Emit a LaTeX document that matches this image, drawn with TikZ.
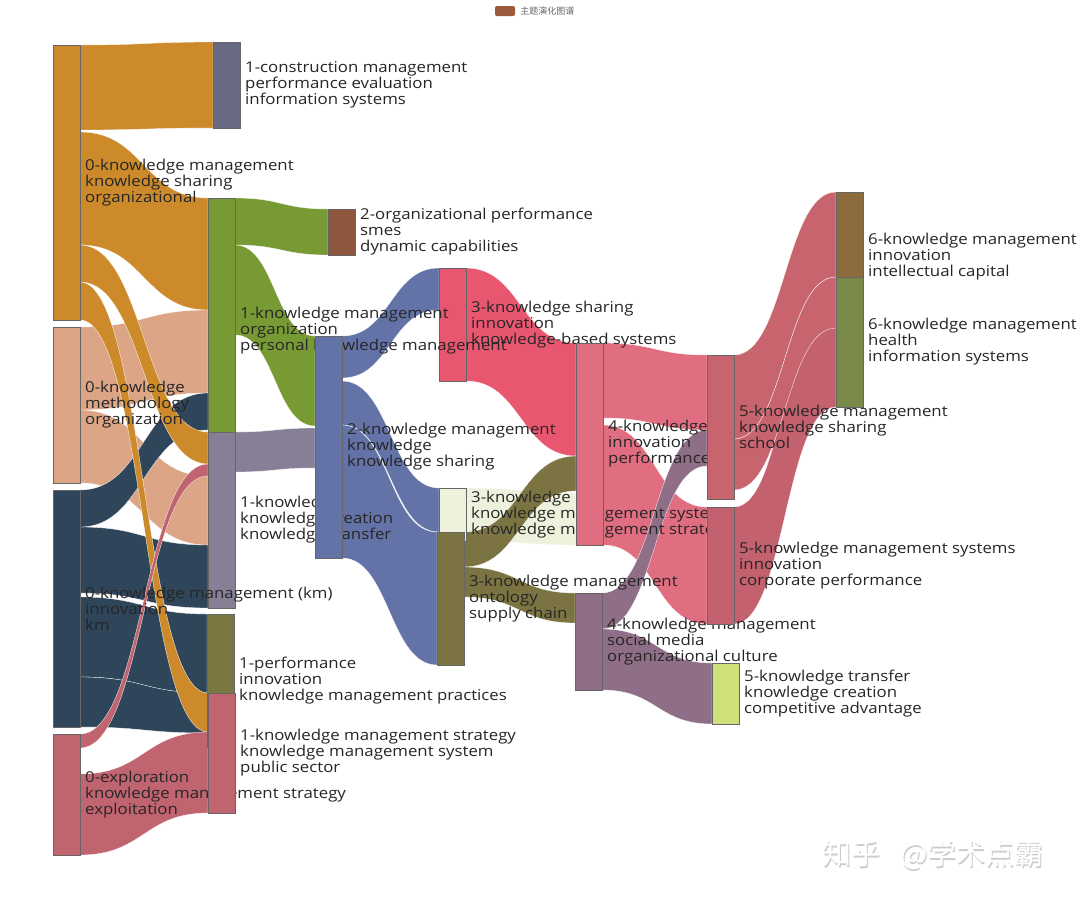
\documentclass[tikz,border=0pt]{standalone}
\usepackage{fontspec}
\setmainfont[FakeStretch=1.12]{Open Sans}
\newfontfamily\cjk{Noto Sans CJK SC}
\usetikzlibrary{calc,positioning}
\pgfdeclarelayer{back}
\pgfdeclarelayer{links}
\pgfsetlayers{back,links,main}

\definecolor{c0a}{HTML}{CC8A2B}
\definecolor{c0b}{HTML}{DCA585}
\definecolor{c0c}{HTML}{2F4559}
\definecolor{c0d}{HTML}{C0646F}
\definecolor{c1a}{HTML}{676A82}
\definecolor{c1b}{HTML}{779A35}
\definecolor{c1c}{HTML}{867F96}
\definecolor{c1d}{HTML}{7B7743}
\definecolor{c1e}{HTML}{C0646F}
\definecolor{c2a}{HTML}{8E573D}
\definecolor{c2b}{HTML}{6373A7}
\definecolor{c3a}{HTML}{E9566F}
\definecolor{c3b}{HTML}{EEF1DC}
\definecolor{c3c}{HTML}{7B7442}
\definecolor{c4a}{HTML}{E06D80}
\definecolor{c4b}{HTML}{8F6F87}
\definecolor{c5a}{HTML}{C8646E}
\definecolor{c5b}{HTML}{C4616E}
\definecolor{c5c}{HTML}{CFE07A}
\definecolor{c6a}{HTML}{8C6B3F}
\definecolor{c6b}{HTML}{7A8A4B}
\definecolor{legbrown}{HTML}{9A5A3C}

\tikzset{
  topic/.style={draw=black!60, line width=0.7pt, anchor=north west, inner sep=0pt, outer sep=0pt, minimum width=27pt},
  tag/.style={anchor=west, align=left, inner sep=0pt, xshift=5pt, text=black!85, font=\fontsize{15}{16}\selectfont},
  band/.style={draw=white, line width=0.3pt},
  markfont/.style={anchor=west, inner sep=0pt, font=\cjk\fontsize{29}{31}\selectfont}
}
\newcommand{\flow}[7]{%
  \path[band,fill=#7] let \p1=([yshift=-#2pt]#1.north east), \p2=([yshift=-#5pt]#4.north west),
    \p3=([yshift=-#6pt]#4.north west), \p4=([yshift=-#3pt]#1.north east), \n1={(\x2-\x1)/2} in
    (\p1) .. controls +(\n1,0) and +(-\n1,0) .. (\p2) -- (\p3)
    .. controls +(-\n1,0) and +(\n1,0) .. (\p4) -- cycle;}

\begin{document}
\begin{tikzpicture}[x=1pt,y=-1pt]
\begin{pgfonlayer}{back}
\fill[white] (0,0) rectangle (1080,900);
\end{pgfonlayer}
\useasboundingbox (0,0) rectangle (1080,900);

\node[fill=legbrown, rounded corners=2pt, minimum width=20pt, minimum height=10pt, inner sep=0pt] (legkey) at (505,11) {};
\node[right=5pt of legkey, inner sep=0pt, text=black!60, font=\cjk\fontsize{9}{10}\selectfont] (legtext) {主题演化图谱};

\node[topic, fill=c0a, minimum height=275pt, label={[tag]east:{0-knowledge management\\knowledge sharing\\organizational}}] (t0a) at (53,45) {};
\node[topic, fill=c0b, minimum height=156pt, label={[tag]east:{0-knowledge\\methodology\\organization}}] (t0b) at (53,327) {};
\node[topic, fill=c0d, minimum height=121pt, label={[tag]east:{0-exploration\\knowledge management strategy\\exploitation}}] (t0d) at (53,734) {};
\node[topic, fill=c1a, minimum height=86pt, label={[tag]east:{1-construction management\\performance evaluation\\information systems}}] (t1a) at (213,42) {};
\node[topic, fill=c3a, minimum height=113pt, label={[tag]east:{3-knowledge sharing\\innovation\\knowledge-based systems}}] (t3a) at (439,268) {};
\node[topic, fill=c1b, minimum height=266pt, label={[tag]east:{1-knowledge management\\organization\\personal knowledge management}}] (t1b) at (208,198) {};
\node[topic, fill=c1c, minimum height=176pt, label={[tag]east:{1-knowledge\\knowledge creation\\knowledge transfer}}] (t1c) at (208,432) {};
\node[topic, fill=c0c, minimum height=237pt, label={[tag]east:{0-knowledge management (km)\\innovation\\km}}] (t0c) at (53,490) {};
\node[topic, fill=c1d, minimum height=133pt, label={[tag]east:{1-performance\\innovation\\knowledge management practices}}] (t1d) at (207,614) {};
\node[topic, fill=c1e, minimum height=120pt, label={[tag]east:{1-knowledge management strategy\\knowledge management system\\public sector}}] (t1e) at (208,693) {};
\node[topic, fill=c2a, minimum height=46pt, label={[tag]east:{2-organizational performance\\smes\\dynamic capabilities}}] (t2a) at (328,209) {};
\node[topic, fill=c2b, minimum height=222pt, label={[tag]east:{2-knowledge management\\knowledge\\knowledge sharing}}] (t2b) at (315,336) {};
\node[topic, fill=c3b, minimum height=53pt, label={[tag]east:{3-knowledge\\knowledge management systems\\knowledge management strategy}}] (t3b) at (439,488) {};
\node[topic, fill=c3c, minimum height=133pt, label={[tag]east:{3-knowledge management\\ontology\\supply chain}}] (t3c) at (437,532) {};
\node[topic, fill=c4a, minimum height=202pt, label={[tag]east:{4-knowledge\\innovation\\performance}}] (t4a) at (576,343) {};
\node[topic, fill=c4b, minimum height=97pt, label={[tag]east:{4-knowledge management\\social media\\organizational culture}}] (t4b) at (575,593) {};
\node[topic, fill=c5a, minimum height=144pt, label={[tag]east:{5-knowledge management\\knowledge sharing\\school}}] (t5a) at (707,355) {};
\node[topic, fill=c5b, minimum height=117pt, label={[tag]east:{5-knowledge management systems\\innovation\\corporate performance}}] (t5b) at (707,507) {};
\node[topic, fill=c5c, minimum height=61pt, label={[tag]east:{5-knowledge transfer\\knowledge creation\\competitive advantage}}] (t5c) at (712,663) {};
\node[topic, fill=c6a, minimum height=130pt, label={[tag]east:{6-knowledge management\\innovation\\intellectual capital}}] (t6a) at (836,192) {};
\node[topic, fill=c6b, minimum height=130pt, label={[tag]east:{6-knowledge management\\health\\information systems}}] (t6b) at (836,277) {};

\node[markfont, text=black!20] (markshade) at (823.2,856.2) {知乎\hspace{20pt}@学术点霸};
\node[markfont, text=white] (mark) at (822,855) {知乎\hspace{20pt}@学术点霸};

\begin{pgfonlayer}{links}
\flow{t0a}{0}{85}{t1a}{0}{86}{c0a}
\flow{t0a}{87}{200}{t1b}{0}{112}{c0a}
\flow{t0b}{0}{83}{t1b}{112}{195}{c0b}
\flow{t0b}{83}{156}{t1c}{44}{113}{c0b}
\flow{t0c}{37}{103}{t1c}{113}{176}{c0c}
\flow{t0c}{107}{187}{t1d}{0}{79}{c0c}
\flow{t0c}{187}{237}{t1e}{0}{40}{c0c}
\flow{t0c}{0}{37}{t1b}{195}{232}{c0c}
\flow{t0a}{200}{237}{t1c}{0}{32}{c0a}
\flow{t0a}{237}{275}{t1e}{0}{39}{c0a}
\flow{t0d}{0}{14}{t1c}{32}{44}{c0d}
\flow{t0d}{40}{121}{t1e}{39}{120}{c0d}
\flow{t1b}{0}{47}{t2a}{0}{46}{c1b}
\flow{t1b}{47}{137}{t2b}{0}{90}{c1b}
\flow{t1c}{0}{40}{t2b}{92}{132}{c1c}
\flow{t2b}{0}{42}{t3a}{0}{42}{c2b}
\flow{t2b}{45}{89}{t3b}{0}{44}{c2b}
\flow{t2b}{89}{222}{t3c}{0}{133}{c2b}
\flow{t3a}{0}{113}{t4a}{0}{113}{c3a}
\flow{t3b}{0}{53}{t4a}{150}{202}{c3b}
\flow{t3c}{0}{35}{t4a}{113}{148}{c3c}
\flow{t3c}{35}{65}{t4b}{0}{30}{c3c}
\flow{t4a}{82}{202}{t5b}{0}{117}{c4a}
\flow{t4a}{0}{75}{t5a}{0}{75}{c4a}
\flow{t4b}{0}{36}{t5a}{75}{111}{c4b}
\flow{t4b}{36}{97}{t5c}{0}{61}{c4b}
\flow{t5b}{0}{117}{t6b}{14}{130}{c5b}
\flow{t5a}{0}{84}{t6a}{0}{85}{c5a}
\flow{t5a}{84}{135}{t6b}{0}{51}{c5a}
\end{pgfonlayer}
\end{tikzpicture}
\end{document}
